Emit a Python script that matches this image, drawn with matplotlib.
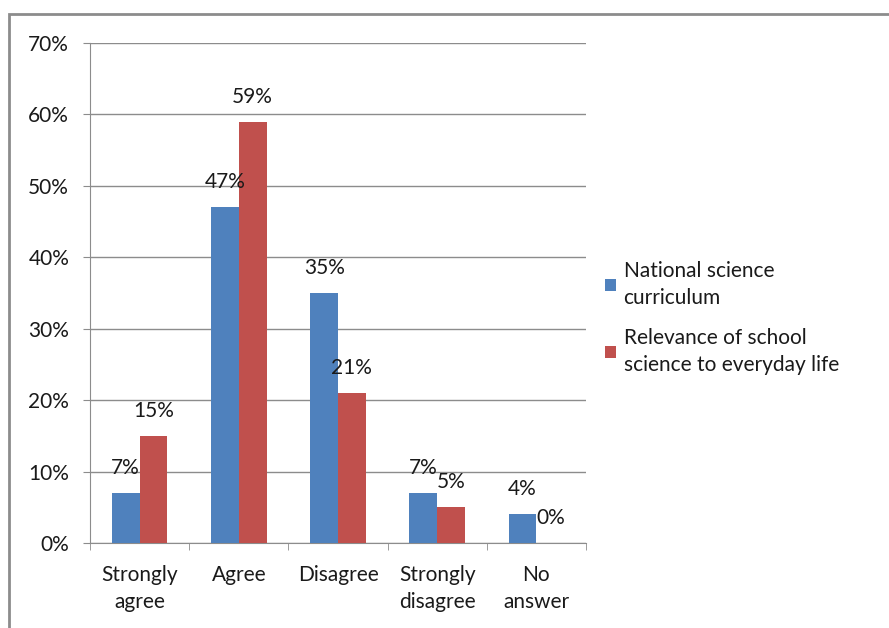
import numpy as np
import matplotlib.pyplot as plt
from matplotlib.patches import Rectangle

# data
categories = ["Strongly\nagree", "Agree", "Disagree", "Strongly\ndisagree", "No\nanswer"]
national = [7, 47, 35, 7, 4]
relevance = [15, 59, 21, 5, 0]
series_names = ["National science\ncurriculum", "Relevance of school\nscience to everyday life"]

plt.rcParams['font.family'] = ['Lato', 'DejaVu Sans']
fs = 15

fig = plt.figure(figsize=(8.89, 6.28), dpi=100)
ax = fig.add_axes([90/889, 1 - 543/628, (586 - 90)/889, 500/628])

# outer chart border (only left and top visible in the crop)
fig.patches.append(Rectangle((9/889, -0.1), 2, 1 - 14/628 + 0.1, transform=fig.transFigure,
                             fill=False, edgecolor='#8c8c8c', linewidth=2))

x = np.arange(len(categories))
w = 0.28
b1 = ax.bar(x - w/2, national, w, color='#4F81BD', label=series_names[0], zorder=3)
b2 = ax.bar(x + w/2, relevance, w, color='#C0504D', label=series_names[1], zorder=3)

for bars, vals in [(b1, national), (b2, relevance)]:
    for r, v in zip(bars, vals):
        ax.annotate(f"{v}%", (r.get_x() + r.get_width()/2, v), xytext=(0, 18),
                    textcoords='offset points', ha='center', va='center',
                    fontsize=fs, color='#1a1a1a', zorder=4)

ax.set_xlim(-0.5, len(categories) - 0.5)
ax.set_ylim(0, 70)
ax.set_yticks(range(0, 71, 10))
ax.set_yticklabels([f"{t}%" for t in range(0, 71, 10)])
ax.yaxis.grid(True, color='#8c8c8c', linewidth=1, zorder=0)

ax.set_xticks(x)
ax.set_xticklabels(categories, linespacing=1.45)
ax.set_xticks(np.arange(-0.5, len(categories)), minor=True)
ax.tick_params(axis='x', which='major', length=0, pad=16, labelsize=fs, labelcolor='#1a1a1a')
ax.tick_params(axis='x', which='minor', length=5, direction='out', color='#8c8c8c')
ax.tick_params(axis='y', length=5, direction='out', color='#8c8c8c', pad=10,
               labelsize=fs, labelcolor='#1a1a1a')

for s in ['top', 'right']:
    ax.spines[s].set_visible(False)
for s in ['left', 'bottom']:
    ax.spines[s].set_color('#8c8c8c')

leg = ax.legend(loc='center left', bbox_to_anchor=(586/889, 1 - 318/628), bbox_transform=fig.transFigure,
                frameon=False, fontsize=fs, handlelength=0.55, handleheight=0.55, handletextpad=0.35,
                labelspacing=0.95, labelcolor='#1a1a1a')
for t in leg.get_texts():
    t.set_linespacing(1.45)

fig.savefig("out.png", dpi=100)
